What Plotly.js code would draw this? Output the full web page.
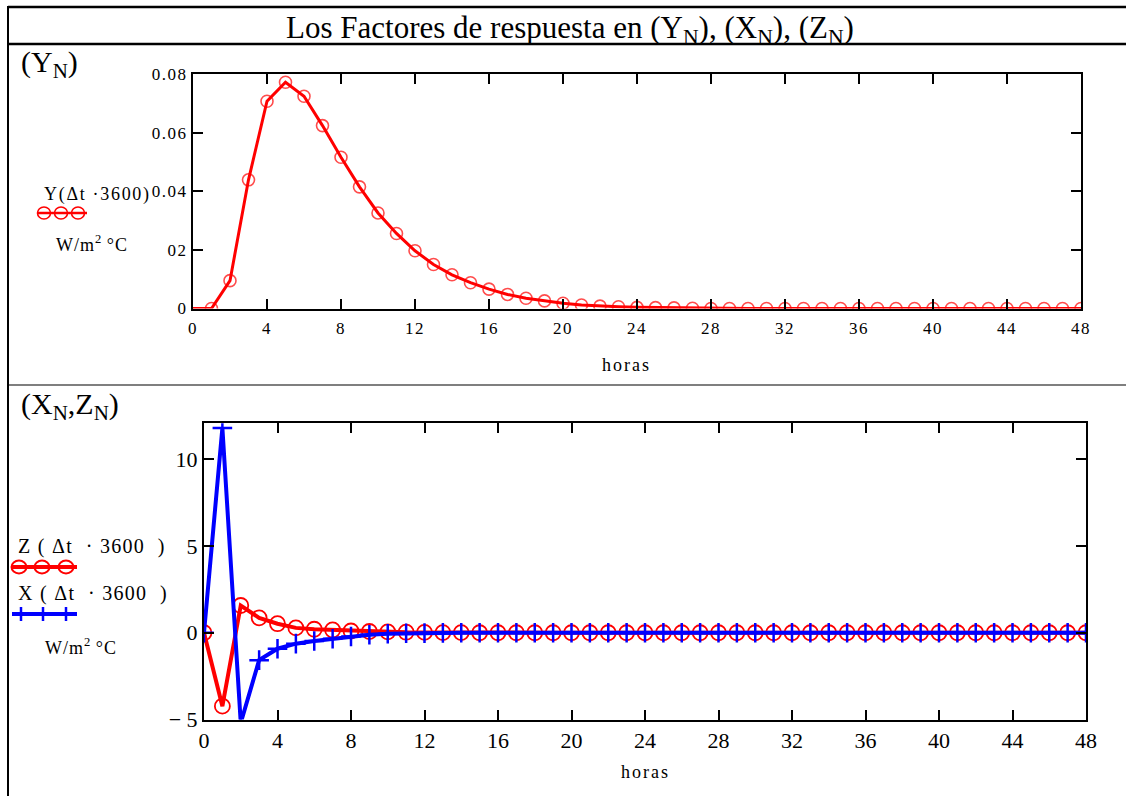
<!DOCTYPE html>
<html>
<head>
<meta charset="utf-8">
<script src="https://cdn.plot.ly/plotly-3.0.1.min.js"></script>
<style>
html,body{margin:0;padding:0;background:#fff;}
#chart{width:1126px;height:796px;}
</style>
</head>
<body>
<div id="chart"></div>
<script>
// ---- data ----
const hours = [0,1,2,3,4,5,6,7,8,9,10,11,12,13,14,15,16,17,18,19,20,21,22,23,24,25,26,27,28,29,30,31,32,33,34,35,36,37,38,39,40,41,42,43,44,45,46,47,48];
const yFactor = [0,0,0.0095,0.0439,0.0707,0.0772,0.0724,0.0624,0.0516,0.0415,0.0326,0.0256,0.0197,0.0150,0.0115,0.0088,0.0066,0.0048,0.0035,0.0026,0.0018,0.0012,0.0008,0.0006,0.0004,0.0003,0.0002,0.0001,0,0,0,0,0,0,0,0,0,0,0,0,0,0,0,0,0,0,0,0,0];
const zFactor = [0,-4.23,1.57,0.86,0.52,0.28,0.20,0.16,0.10,0.07,0.05,0.03,0.02,0.01,0.01,0,0,0,0,0,0,0,0,0,0,0,0,0,0,0,0,0,0,0,0,0,0,0,0,0,0,0,0,0,0,0,0,0,0];
const xFactor = [0,11.8,-5.2,-1.58,-0.92,-0.63,-0.48,-0.35,-0.22,-0.12,-0.06,-0.03,-0.02,-0.01,0,0,0,0,0,0,0,0,0,0,0,0,0,0,0,0,0,0,0,0,0,0,0,0,0,0,0,0,0,0,0,0,0,0,0];
const xTickVals = [0,4,8,12,16,20,24,28,32,36,40,44,48];
const xTickText = ['0','4','8','12','16','20','24','28','32','36','40','44','48'];
const yTopTickVals = [0,0.02,0.04,0.06,0.08];
const yTopTickText = ['0','02','0.04','0.06','0.08'];
const yBotTickVals = [-5,0,5,10];
const yBotTickText = ['\u2212 5','0','5','10'];

const W = 1126, H = 796;
const px = x => x / W;
const py = y => 1 - y / H;
const FONT = 'Liberation Serif, Times New Roman, serif';
const sp = (t, ls) => '<span style="letter-spacing:' + ls + 'px">' + t + '</span>';

const topSizes = hours.map((h, i) => i === 0 ? 0 : 12);

const traces = [
  {x: hours, y: yFactor, xaxis: 'x', yaxis: 'y', mode: 'lines+markers',
   line: {color: '#ff0000', width: 3},
   marker: {symbol: 'circle-open', size: topSizes, color: '#ff0000', line: {width: 1.6, color: '#ff0000'}},
   showlegend: false, hoverinfo: 'skip'},
  {x: hours, y: zFactor, xaxis: 'x2', yaxis: 'y2', mode: 'lines+markers',
   line: {color: '#ff0000', width: 4},
   marker: {symbol: 'circle-open', size: 15, color: '#ff0000', line: {width: 1.8, color: '#ff0000'}},
   showlegend: false, hoverinfo: 'skip'},
  {x: hours, y: xFactor, xaxis: 'x2', yaxis: 'y2', mode: 'lines+markers',
   line: {color: '#0000ff', width: 4},
   marker: {symbol: 'cross-thin-open', size: 14, color: '#0000ff', line: {width: 2.5, color: '#0000ff'}},
   showlegend: false, hoverinfo: 'skip'}
];

const axisCommon = {
  showgrid: false, zeroline: false, showline: true, linecolor: '#000', linewidth: 2,
  ticks: 'inside', ticklen: 10, tickwidth: 2, tickcolor: '#000', mirror: 'ticks'
};

const shapes = [
  {type: 'line', xref: 'paper', yref: 'paper', x0: px(8), x1: 1, y0: py(7), y1: py(7), line: {color: '#000', width: 2.5}},
  {type: 'line', xref: 'paper', yref: 'paper', x0: px(8), x1: 1, y0: py(44), y1: py(44), line: {color: '#000', width: 2.5}},
  {type: 'line', xref: 'paper', yref: 'paper', x0: px(8), x1: px(8), y0: py(6), y1: 0, line: {color: '#000', width: 2}},
  {type: 'line', xref: 'paper', yref: 'paper', x0: px(8), x1: 1, y0: py(385), y1: py(385), line: {color: '#000', width: 1.2}},
  {type: 'line', xref: 'paper', yref: 'paper', x0: px(37), x1: px(87), y0: py(213), y1: py(213), line: {color: '#ff0000', width: 2.5}},
  {type: 'line', xref: 'paper', yref: 'paper', x0: px(12), x1: px(77), y0: py(567), y1: py(567), line: {color: '#ff0000', width: 4}},
  {type: 'line', xref: 'paper', yref: 'paper', x0: px(12), x1: px(77), y0: py(614), y1: py(614), line: {color: '#0000ff', width: 4}}
];
[44, 61, 78].forEach(cx => shapes.push({type: 'circle', xref: 'paper', yref: 'paper',
  x0: px(cx - 6.5), x1: px(cx + 6.5), y0: py(213 - 6), y1: py(213 + 6), line: {color: '#ff0000', width: 1.6}}));
[19, 42, 66].forEach(cx => shapes.push({type: 'circle', xref: 'paper', yref: 'paper',
  x0: px(cx - 7.5), x1: px(cx + 7.5), y0: py(567 - 6.5), y1: py(567 + 6.5), line: {color: '#ff0000', width: 2}}));
[21, 43, 66].forEach(cx => shapes.push({type: 'line', xref: 'paper', yref: 'paper',
  x0: px(cx), x1: px(cx), y0: py(614 - 7), y1: py(614 + 7), line: {color: '#0000ff', width: 2.5}}));

const ann = (text, x, y, size, xanchor) => ({text, x: px(x), y: py(y), xref: 'paper', yref: 'paper',
  xanchor: xanchor || 'left', yanchor: 'middle', showarrow: false, font: {family: FONT, size, color: '#000'}});

const annotations = [
  ann('(Y<sub>N</sub>)', 19, 64, 30),
  ann('(X<sub>N</sub>,Z<sub>N</sub>)', 19, 406, 30),
  ann(sp('Y(\u0394t \u00b73600)', 1.7), 42, 194, 18),
  ann(sp('W/m', 1) + '<sup>2</sup>' + sp(' \u00b0C', 1), 92, 243, 18, 'center'),
  ann(sp('Z ( \u0394t  \u00b7 3600  )', 1.3), 16, 546, 20),
  ann(sp('X ( \u0394t  \u00b7 3600  )', 1.3), 16, 593, 20),
  ann(sp('W/m', 1) + '<sup>2</sup>' + sp(' \u00b0C', 1), 81, 646, 18, 'center'),
  ann(sp('horas', 2), 626, 365, 18, 'center'),
  ann(sp('horas', 2), 645, 772, 18, 'center')
];

const layout = {
  width: W, height: H,
  margin: {l: 0, r: 0, t: 0, b: 0},
  paper_bgcolor: '#fff', plot_bgcolor: '#fff',
  font: {family: FONT, color: '#000'},
  title: {text: 'Los Factores de respuesta en (Y<sub>N</sub>), (X<sub>N</sub>), (Z<sub>N</sub>)',
          x: px(570), xref: 'paper', xanchor: 'center', y: py(27), yref: 'paper', yanchor: 'middle',
          font: {family: FONT, size: 31, color: '#000'}},
  xaxis: Object.assign({}, axisCommon, {domain: [px(193), px(1081)], range: [0, 48], anchor: 'y',
    tickvals: xTickVals, ticktext: xTickText.map(t => sp(t, 1.5)), ticklabelstandoff: 3,
    tickfont: {family: FONT, size: 17}}),
  yaxis: Object.assign({}, axisCommon, {domain: [py(308.5), py(74)], range: [0, 0.08], anchor: 'x',
    tickvals: yTopTickVals, ticktext: yTopTickText.map(t => sp(t, 1.5)), tickfont: {family: FONT, size: 17}}),
  xaxis2: Object.assign({}, axisCommon, {domain: [px(204), px(1086)], range: [0, 48], anchor: 'y2',
    tickvals: xTickVals, ticktext: xTickText, tickfont: {family: FONT, size: 22}}),
  yaxis2: Object.assign({}, axisCommon, {domain: [py(719.5), py(423.3)], range: [-5, 12.07], anchor: 'x2',
    tickvals: yBotTickVals, ticktext: yBotTickText, tickfont: {family: FONT, size: 22}}),
  shapes, annotations
};

Plotly.newPlot('chart', traces, layout, {displayModeBar: false, staticPlot: true});
</script>
</body>
</html>
